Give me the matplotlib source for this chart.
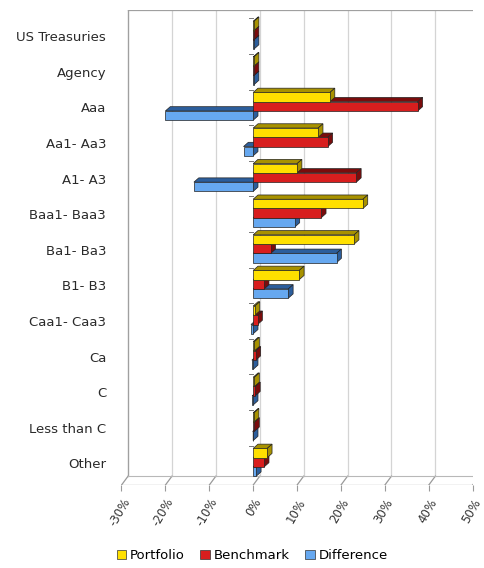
import numpy as np
import matplotlib.pyplot as plt
import matplotlib.transforms as mtransforms
from matplotlib.patches import Polygon, Patch

categories = ["US Treasuries", "Agency", "Aaa", "Aa1- Aa3", "A1- A3", "Baa1- Baa3",
              "Ba1- Ba3", "B1- B3", "Caa1- Caa3", "Ca", "C", "Less than C", "Other"]
portfolio = [0.2, 0.2, 17.5, 14.8, 10.0, 25.0, 23.0, 10.5, 0.4, 0.3, 0.3, 0.2, 3.2]
benchmark = [0.2, 0.2, 37.5, 17.0, 23.5, 15.5, 4.0, 2.5, 1.0, 0.6, 0.5, 0.3, 2.5]
difference = [0.2, 0.2, -20.0, -2.2, -13.5, 9.5, 19.0, 8.0, -0.5, -0.3, -0.2, -0.1, 0.7]
xticks = [-30, -20, -10, 0, 10, 20, 30, 40, 50]

series = [("Portfolio", portfolio, "#ffe000", "#a89200"),
          ("Benchmark", benchmark, "#d81e1e", "#7a0c0c"),
          ("Difference", difference, "#66a8f0", "#2c5e9c")]
offsets = [-0.29, -0.03, 0.23]
h = 0.26
dx, dy = 1.1, 0.12   # fake depth

fig = plt.figure(figsize=(4.85, 5.68), dpi=100)
ax = fig.add_axes([0.2505, 0.146, 0.724, 0.836])
ax.set_xlim(-30, 50)
ax.set_ylim(12.61, -0.73)

# back wall grid and floor
wx, wy = 1.5, 0.25
top = -0.73
floor = 12.61
for t in xticks:
    ax.plot([t + wx, t + wx], [top, floor - wy], color="#d4d4d4", lw=0.9, zorder=1)
    ax.plot([t, t + wx], [floor, floor - wy], color="#9a9a9a", lw=0.9, zorder=1)
ax.plot([-30 + wx, 50 + wx], [top, top], color="#a0a0a0", lw=0.9, zorder=1)
ax.plot([-30, 50], [floor, floor], color="#9a9a9a", lw=0.9, zorder=1)
ax.plot([-30 + wx, -30 + wx], [top, floor - wy], color="#a0a0a0", lw=0.9, zorder=1)
ax.plot([-30 + wx, 50 + wx], [floor - wy, floor - wy], color="#b8b8b8", lw=0.8, zorder=1)

# small axis ticks at category boundaries
for i in range(len(categories)):
    ax.plot([-1.0, 0], [i - 0.5, i - 0.5], color="#777777", lw=0.7, zorder=2)

# bars, drawn back to front
z = 3
for i in range(len(categories) - 1, -1, -1):
    for k in (2, 1, 0):
        name, vals, col, dark = series[k]
        v = vals[i]
        y0 = i + offsets[k] - h / 2
        y1 = y0 + h
        lo, hi = min(0, v), max(0, v)
        topface = Polygon([(lo, y0), (hi, y0), (hi + dx, y0 - dy), (lo + dx, y0 - dy)],
                          closed=True, facecolor=dark, edgecolor="#222222", lw=0.5, zorder=z)
        side = Polygon([(hi, y0), (hi + dx, y0 - dy), (hi + dx, y1 - dy), (hi, y1)],
                       closed=True, facecolor=dark, edgecolor="#222222", lw=0.5, zorder=z)
        front = Polygon([(lo, y0), (hi, y0), (hi, y1), (lo, y1)],
                        closed=True, facecolor=col, edgecolor="#222222", lw=0.5, zorder=z + 0.5)
        ax.add_patch(topface)
        ax.add_patch(side)
        ax.add_patch(front)
        z += 1

ax.set_yticks(range(len(categories)))
ax.set_yticklabels(categories, fontsize=9.5, color="#2a2a2a")
ax.set_xticks(xticks)
ax.set_xticklabels([f"{t}%" for t in xticks], rotation=60, ha="right", va="top",
                   rotation_mode="anchor", fontsize=8.5, color="#333333")
shift = mtransforms.ScaledTranslation(5 / 100, -6 / 100, fig.dpi_scale_trans)
for lab in ax.get_xticklabels():
    lab.set_transform(lab.get_transform() + shift)
ax.tick_params(axis="y", length=0, pad=11)
ax.tick_params(axis="x", length=4, color="#9a9a9a", pad=4)
for s in ax.spines.values():
    s.set_visible(False)

handles = [Patch(facecolor=c, edgecolor="#333333", lw=0.5, label=n) for n, _, c, _ in series]
fig.legend(handles=handles, loc="lower center", bbox_to_anchor=(0.52, -0.01), ncol=3,
           frameon=False, fontsize=9.5, handlelength=0.7, handleheight=0.7,
           handletextpad=0.3, columnspacing=1.2)

fig.savefig("out.png", dpi=100)
